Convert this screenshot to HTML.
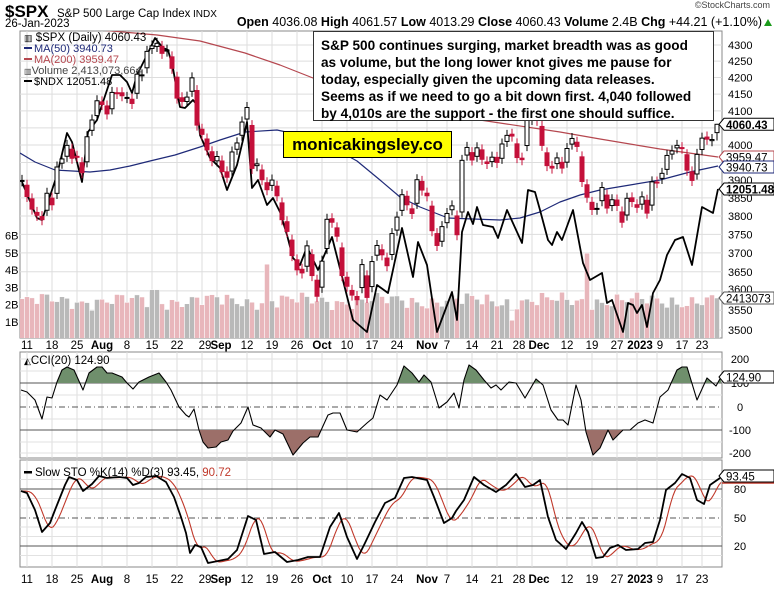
<!DOCTYPE html>
<html><head><meta charset="utf-8">
<style>
html,body{margin:0;padding:0;background:#fff;}
body{width:774px;height:589px;overflow:hidden;position:relative;font-family:"Liberation Sans",Arial,sans-serif;}
svg{position:absolute;left:0;top:0;}
#note{position:absolute;left:313px;top:31px;width:386px;height:83px;border:1px solid #333;background:#fff;font-weight:bold;font-size:13.6px;line-height:17px;padding:5px 6px 0 7px;color:#000;white-space:nowrap;}
#logo{position:absolute;left:283px;top:131px;width:167px;height:25px;border:1px solid #000;background:#ffff00;font-weight:bold;font-size:17px;line-height:25px;text-align:center;color:#000;}
</style></head><body>
<svg id="s" width="774" height="589" xmlns="http://www.w3.org/2000/svg"></svg>
<div id="note">S&amp;P 500 continues surging, market breadth was as good<br>as volume, but the long lower knot gives me pause for<br>today, especially given the upcoming data releases.<br>Seems as if we need to go a bit down first. 4,040 followed<br>by 4,010s are the support - the first one should suffice.</div>
<div id="logo">monicakingsley.co</div>
<script>
var C=[4132,4101,4176,4109,4121,4161,4116,4018,3901,3750,3735,3790,3667,3675,3765,3760,3796,3912,3900,3821,3819,3785,3825,3831,3845,3903,3899,
3854,3819,3802,3790,3863,3831,3937,3960,3999,3962,3967,3921,4024,4073,4130,
4119,4091,4155,4152,4145,4140,4122,4210,4208,4280,4297,4305,4274,4284,4228,4138,4128,4141,4199,4058,4031,3986,3955,
3967,3924,3908,3980,4006,4067,4110,3933,3946,3901,3873,3900,3856,3790,3758,3693,3655,3647,3719,3640,3586,
3678,3791,3783,3745,3640,3612,3589,3577,3669,3583,3677,3720,3695,3666,3752,3797,3859,3831,3807,3901,3872,
3856,3760,3720,3771,3807,3828,3749,3956,3993,3957,3992,3959,3947,3965,3950,4003,4028,4026,3964,3958,4080,
4076,4072,3999,3941,3934,3963,3934,3990,4019,3996,3896,3852,3818,3821,3879,3822,3845,3829,3783,3849,3840,
3824,3853,3808,3895,3893,3919,3970,3983,3999,3991,3928,3899,3973,4020,4017,4016,4060.43];
function yP(p){return 11624-1384*Math.log(p);}
function X(k){return 22+k*5;}
var o='';
function L(x1,y1,x2,y2,c,w,d){o+='<line x1="'+x1+'" y1="'+y1+'" x2="'+x2+'" y2="'+y2+'" stroke="'+c+'" stroke-width="'+(w||1)+'"'+(d?' stroke-dasharray="'+d+'"':'')+'/>';}
function T(x,y,s,sz,a,b,c){o+='<text x="'+x+'" y="'+y+'" font-size="'+sz+'" font-family="Liberation Sans, Arial, sans-serif"'+(a?' text-anchor="'+a+'"':'')+(b?' font-weight="bold"':'')+' fill="'+(c||'#000')+'">'+s+'</text>';}
function P(pts,c,w,extra){o+='<polyline fill="none" stroke="'+c+'" stroke-width="'+w+'" stroke-linejoin="round" points="'+pts.map(function(p){return p[0]+','+p[1]}).join(' ')+'"'+(extra||'')+'/>';}
var labs=[[1,'11'],[6,'18'],[11,'25'],[16,'Aug',1],[21,'8'],[26,'15'],[31,'22'],[36,'29'],[39,'Sep',1],[45,'12'],[50,'19'],[55,'26'],[60,'Oct',1],[65,'10'],[70,'17'],[75,'24'],[81,'Nov',1],[85,'7'],[90,'14'],[95,'21'],[99,'28'],[102,'Dec',1],[109,'12'],[114,'19'],[119,'27'],[123,'2023',1],[127,'9'],[132,'17'],[136,'23']];
var PL=20,PR=722;
o+='<rect x="'+PL+'" y="31" width="'+(PR-PL)+'" height="307" fill="#fff" stroke="#888"/>';
o+='<rect x="'+PL+'" y="352" width="'+(PR-PL)+'" height="106" fill="#fff" stroke="#888"/>';
o+='<rect x="'+PL+'" y="460" width="'+(PR-PL)+'" height="107" fill="#fff" stroke="#888"/>';
labs.forEach(function(l){var x=X(l[0]);L(x,31,x,338,'#ddd');L(x,352,x,458,'#ddd');L(x,460,x,567,'#ddd');});
for(var p=3500;p<=4300;p+=50){var y=yP(p);L(PL,y,PR,y,'#ddd');if(p!=4050&&p!=3600)T(728,y+4,p,11);}
T(728,yP(3600)+2,'3600',11);
o+='<clipPath id="cm"><rect x="'+PL+'" y="31" width="'+(PR-PL)+'" height="307"/></clipPath><g clip-path="url(#cm)">';
for(var k=0;k<140;k++){var v=2.25+0.28*Math.sin(k*1.7)+0.2*Math.sin(k*0.37)+0.12*Math.cos(k*2.9);
if(k==49)v=4.4;if(k==113)v=5.05;if(k==98)v=1.1;if(k==139)v=2.41;if(k==26||k==27)v=2.9;
var i=k+26,dn=C[i]<C[i-1];var h=v*17;o+='<rect x="'+(X(k)-2.5)+'" y="'+(339-h)+'" width="5" height="'+h+'" fill="'+(dn?'#e8b6bb':'#b9b9b9')+'" stroke="#fff" stroke-width="0.5"/>';}
P([[20,27],[100,30],[157,35],[200,41],[245,53],[280,65],[313,78],[400,100],[480,120],[560,132],[600,139],[660,149],[718,157]],'#b5474f',1.2);
P([[20,153],[35,162],[55,170],[90,172],[110,170],[130,166],[150,161],[175,155],[200,147],[220,140],[245,132],[277,130],[300,135],[330,146],[357,161],[380,180],[400,197],[420,207],[448,218],[473,219],[500,220],[520,218],[540,212],[560,202],[580,195],[600,190],[630,185],[660,180],[690,172],[718,166]],'#1f2a78',1.2);
P([[22,182],[37,218],[42,220],[47,205],[57,175],[67,133],[72,142],[82,182],[88,132],[97,120],[103,102],[112,75],[120,75],[127,82],[132,93],[137,75],[147,55],[155,38],[163,48],[168,50],[173,68],[177,92],[180,107],[185,108],[193,100],[197,105],[200,135],[210,158],[220,168],[227,190],[237,165],[243,140],[247,122],[252,188],[258,180],[267,205],[273,198],[280,212],[287,235],[293,258],[300,265],[307,247],[318,270],[332,237],[353,320],[367,332],[377,285],[388,293],[402,228],[413,277],[418,242],[427,265],[437,332],[452,292],[457,320],[462,232],[468,212],[473,224],[477,207],[483,225],[493,227],[498,238],[507,210],[522,243],[528,190],[535,192],[540,210],[548,240],[552,245],[557,232],[562,240],[573,210],[583,263],[590,280],[602,273],[607,303],[612,300],[623,332],[628,303],[633,305],[637,313],[642,305],[647,327],[653,293],[660,280],[667,255],[675,240],[683,237],[692,265],[702,207],[713,213],[718,189]],'#000',1.8);
for(var k=0;k<140;k++){var i=k+26,c=C[i],pc=C[i-1];var op=pc+(c-pc)*0.3+((k%3)-1)*4;if(k==139)op=4036.08;
var hi=Math.max(op,c)+c*0.004,lo=Math.min(op,c)-c*0.004;if(k==139){hi=4061.57;lo=4013.29;}
var up=c>=op,col=up?'#000':'#c4103a',x=X(k);
L(x,yP(hi),x,yP(lo),col,1);var y1=yP(Math.max(op,c)),y2=yP(Math.min(op,c));var bh=Math.max(1,y2-y1);
o+='<rect x="'+(x-2)+'" y="'+y1+'" width="4" height="'+bh+'" fill="'+(up?'#fff':'#c4103a')+'" stroke="'+col+'" stroke-width="1"/>';}
o+='</g>';
T(24,41,'<tspan font-size="9">▥</tspan> $SPX (Daily) 4060.43',11.5);
o+='<rect x="24" y="47" width="8" height="2" fill="#1f2a78"/>';T(34,52,'MA(50) 3940.73',11,0,0,'#1f2a78');
o+='<rect x="24" y="58" width="8" height="2" fill="#b5474f"/>';T(34,63,'MA(200) 3959.47',11,0,0,'#b5474f');
T(24,74,'<tspan font-size="8">▥</tspan>Volume 2,413,073,664',11,0,0,'#444');
o+='<rect x="24" y="80" width="8" height="2" fill="#000"/>';T(34,85,'$NDX 12051.48',11);
['1B','2B','3B','4B','5B','6B'].forEach(function(s,j){T(5,326-j*17.3,s,11);});
function box(y,s,c,b){o+='<path d="M719,'+y+' l5,-6 h50 v12 h-50 z" fill="#fff" stroke="'+c+'"/>';T(726,y+4.5,s,11.5,0,b,'#000');}
box(yP(4060.43),'4060.43','#000',1);
box(157,'3959.47','#b5474f');box(167,'3940.73','#1f2a78');
box(189,'12051.48','#000',1);box(298,'2413073','#555');
function dates(y){labs.forEach(function(l){var x=X(l[0]);var s=l[1];if(s=='29')x+=3;if(s=='Sep')x+=4;if(s=='28')x+=2;if(s=='Dec')x+=7;if(s=='2023')x+=3;if(s=='9')x+=3;T(x,y,s,11.5,'middle',l[2]);});}
dates(349);dates(583);
[359,371,395,419,442,453].forEach(function(y){L(PL,y,PR,y,'#e2e2e2');});
L(PL,383,PR,383,'#555');L(PL,430,PR,430,'#555');L(PL,407,PR,407,'#555',1,'6,3,1,3');
var cci=[[21,390],[27,392],[35,400],[42,419],[47,397],[52,398],[57,382],[62,370],[67,367],[74,370],[83,390],[89,373],[97,367],[102,367],[107,373],[112,373],[122,377],[127,383],[133,389],[139,382],[149,377],[159,373],[166,382],[171,390],[179,407],[186,415],[189,417],[194,409],[199,430],[203,442],[208,448],[216,447],[221,442],[228,440],[233,431],[241,423],[248,407],[253,425],[261,428],[270,437],[275,430],[283,434],[293,455],[303,443],[310,437],[318,437],[328,415],[333,413],[340,413],[347,430],[357,432],[367,423],[373,418],[380,395],[387,400],[397,385],[404,366],[412,373],[419,382],[424,375],[431,382],[439,408],[447,402],[454,393],[459,408],[464,380],[469,365],[476,370],[484,380],[491,388],[496,385],[501,390],[509,382],[516,383],[525,398],[536,379],[543,385],[551,410],[558,420],[563,420],[568,425],[576,385],[581,400],[586,432],[593,455],[600,448],[608,430],[613,440],[623,430],[630,430],[638,423],[645,420],[653,423],[660,397],[668,390],[677,370],[682,367],[687,367],[697,400],[707,378],[716,386],[721,377]];
var cp=cci.map(function(p){return p[0]+','+p[1]}).join(' ');
o+='<clipPath id="cg"><rect x="20" y="352" width="702" height="31"/></clipPath><clipPath id="cb"><rect x="20" y="430" width="702" height="28"/></clipPath>';
o+='<polygon clip-path="url(#cg)" fill="#6f8f6c" points="21,383 '+cp+' 721,383"/>';
o+='<polygon clip-path="url(#cb)" fill="#9c6f69" points="21,430 '+cp+' 721,430"/>';
P(cci,'#000',1.1);
T(24,364,'<tspan font-size="9">◭</tspan>CCI(20) 124.90',11.5);
[['200',359],['100',383],['0',407],['-100',430],['-200',453]].forEach(function(a){T(740,a[1]+4,a[0],11,'middle');});
box(377,'124.90','#000');
for(var v=10;v<=90;v+=10){if(v==20||v==50||v==80)continue;L(PL,565-v*0.95,PR,565-v*0.95,'#e2e2e2');}
L(PL,489,PR,489,'#555');L(PL,546,PR,546,'#555');L(PL,518,PR,518,'#555',1,'6,3,1,3');
var K=[[21,491],[27,493],[35,510],[42,532],[50,523],[55,510],[59,500],[65,485],[69,477],[77,480],[83,491],[92,484],[99,476],[107,478],[119,477],[127,478],[133,485],[139,483],[146,477],[156,476],[166,482],[174,497],[181,517],[186,533],[190,553],[195,545],[201,547],[208,563],[218,561],[228,559],[237,550],[248,516],[256,520],[264,554],[275,552],[287,562],[298,560],[308,557],[320,557],[330,527],[339,513],[347,537],[357,559],[365,543],[375,522],[385,503],[395,498],[404,478],[412,477],[427,480],[434,497],[444,523],[452,518],[456,511],[464,500],[474,477],[484,485],[496,492],[506,485],[516,474],[525,487],[533,485],[540,480],[548,517],[556,540],[566,549],[576,533],[582,522],[588,532],[596,558],[603,557],[610,548],[618,545],[626,550],[638,549],[645,543],[653,542],[660,520],[666,490],[675,483],[682,474],[690,478],[697,500],[704,504],[710,485],[720,478]];
function interp(x){for(var j=1;j<K.length;j++){if(K[j][0]>=x){var a=K[j-1],b=K[j];return a[1]+(b[1]-a[1])*(x-a[0])/(b[0]-a[0]);}}return K[K.length-1][1];}
var D=[];for(var x=15;x<=720;x+=2){var s=0,n=0;for(var d=0;d<=10;d+=1){var xx=x-d;if(xx<21)xx=21;s+=interp(xx);n++;}D.push([x+2,s/n]);}
D=D.filter(function(p){return p[0]>=21&&p[0]<=721;});
P(D,'#c0392b',1.1);
P(K,'#000',1.8);
o+='<rect x="24" y="471" width="8" height="2.5" fill="#000"/>';T(35,476,'Slow STO %K(14) %D(3) 93.45, <tspan fill="#c0392b">90.72</tspan>',11.5);
[['80',489],['50',518],['20',546]].forEach(function(a){T(740,a[1]+4,a[0],11,'middle');});
L(722,483,774,483,'#c0392b',1.5);
box(476,'93.45','#000');
T(5,17,'$SPX',17,0,1);T(57,17,'S&amp;P 500 Large Cap Index',11.5);T(193,17,'INDX',10);
T(5,27,'26-Jan-2023',11.5);
T(770,8,'©StockCharts.com',9,'end',0,'#444');
T(762,26,'<tspan font-weight="bold">Open</tspan> 4036.08 <tspan font-weight="bold">High</tspan> 4061.57 <tspan font-weight="bold">Low</tspan> 4013.29 <tspan font-weight="bold">Close</tspan> 4060.43 <tspan font-weight="bold">Volume</tspan> 2.4B <tspan font-weight="bold">Chg</tspan> +44.21 (+1.10%)',12.5,'end');
o+='<path d="M764,26 l4,-7 l4,7 z" fill="#1a9a1a"/>';
document.getElementById('s').innerHTML=o;
</script>
</body></html>
